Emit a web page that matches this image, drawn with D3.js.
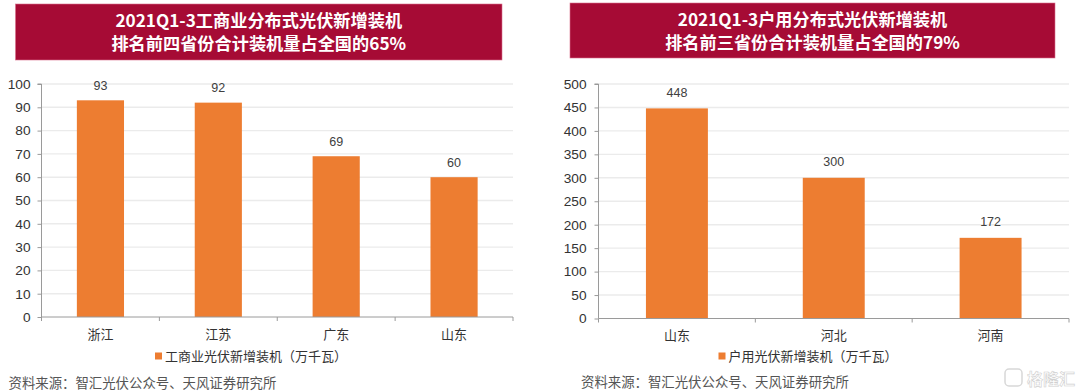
<!DOCTYPE html>
<html><head><meta charset="utf-8">
<script src="https://cdn.jsdelivr.net/npm/d3@7/dist/d3.min.js"></script>
<style>html,body{margin:0;padding:0;background:#fff}svg{display:block}</style></head>
<body><svg id="c" width="1080" height="392"></svg>
<script>
const categoriesA = ["浙江","江苏","广东","山东"];
const valuesA = [93,92,69,60];
const ticksA = [0,10,20,30,40,50,60,70,80,90,100];
const titleA = ["2021Q1-3工商业分布式光伏新增装机","排名前四省份合计装机量占全国的65%"];
const legendA = "工商业光伏新增装机（万千瓦）";
const categoriesB = ["山东","河北","河南"];
const valuesB = [448,300,172];
const ticksB = [0,50,100,150,200,250,300,350,400,450,500];
const titleB = ["2021Q1-3户用分布式光伏新增装机","排名前三省份合计装机量占全国的79%"];
const legendB = "户用光伏新增装机（万千瓦）";
const source = "资料来源：智汇光伏公众号、天风证券研究所";
const watermark = "格隆汇";
const cjk = "'Noto Sans CJK SC','Noto Sans',sans-serif";
const latin = "'Liberation Sans',Arial,sans-serif";
const svg = d3.select("#c");

function panel(o){
  const g = svg.append("g");
  g.append("rect").attr("x",o.box[0]).attr("y",o.box[1]).attr("width",o.box[2]).attr("height",o.box[3])
    .attr("fill","#a60b35").attr("stroke","#d9708c").attr("stroke-width",0.6);
  o.title.forEach((t,i)=>g.append("text").attr("x",o.box[0]+o.box[2]/2).attr("y",o.box[1]+23+i*23)
    .attr("text-anchor","middle").attr("fill","#fff").attr("font-family",cjk).attr("font-weight",700)
    .attr("font-size",17.2).text(t));
  const x = d3.scaleBand().domain(o.cats).range([o.x0,o.x1]).paddingInner(o.pad).paddingOuter(o.pad/2);
  const y = d3.scaleLinear().domain([0,o.max]).range([o.y0,o.y1]);
  g.append("g").selectAll("line").data(o.ticks.slice(1)).join("line")
    .attr("x1",o.x0).attr("x2",o.x1).attr("y1",d=>y(d)).attr("y2",d=>y(d))
    .attr("stroke","#ebebeb").attr("stroke-width",1.4);
  g.selectAll("rect.bar").data(o.vals).join("rect").attr("class","bar")
    .attr("x",(d,i)=>x(o.cats[i])).attr("width",x.bandwidth())
    .attr("y",d=>y(d)).attr("height",d=>y(0)-y(d)).attr("fill","#ed7d31");
  g.selectAll("text.v").data(o.vals).join("text").attr("class","v")
    .attr("x",(d,i)=>x(o.cats[i])+x.bandwidth()/2).attr("y",d=>y(d)-o.lab)
    .attr("text-anchor","middle").attr("font-family",latin).attr("font-size",12.5).attr("fill","#404040").text(d=>d);
  const ay = d3.axisLeft(y).tickValues(o.ticks).tickSize(4).tickPadding(o.tp);
  const gy = g.append("g").attr("transform",`translate(${o.x0},0)`).call(ay);
  gy.selectAll("text").attr("font-family",latin).attr("font-size",13.7).attr("fill","#333");
  gy.selectAll("line,path").attr("stroke","#9a9a9a").attr("stroke-width",1);
  gy.select("path").attr("d",`M-4,${y(o.max)}H0V${y(0)}`);
  const ax = d3.axisBottom(x).tickSize(0).tickPadding(0);
  const gx = g.append("g").attr("transform",`translate(0,${o.y0})`).call(ax);
  gx.selectAll("text").attr("font-family",cjk).attr("font-size",13).attr("fill","#333").attr("dy",0).attr("y",21.5);
  gx.selectAll("path").attr("stroke","#9a9a9a").attr("d",`M${o.x0},0H${o.x1}`);
  const step = (o.x1-o.x0)/o.cats.length;
  gx.selectAll("line.sep").data(d3.range(o.cats.length+1)).join("line").attr("class","sep")
    .attr("x1",i=>o.x0+i*step).attr("x2",i=>o.x0+i*step).attr("y1",0).attr("y2",4).attr("stroke","#9a9a9a");
  g.append("rect").attr("x",o.lx).attr("y",352.5).attr("width",7).attr("height",7).attr("fill","#ed7d31");
  g.append("text").attr("x",o.lx+10).attr("y",360.5).attr("font-family",cjk).attr("font-size",13)
    .attr("fill","#333").text(o.legend);
  g.append("text").attr("x",o.sx).attr("y",o.sy).attr("font-family",cjk).attr("font-size",13.4)
    .attr("fill","#555").text(source);
}
panel({box:[15.5,4,486.5,56],title:titleA,cats:categoriesA,vals:valuesA,ticks:ticksA,max:100,
  x0:41.5,x1:513,y0:317,y1:84,pad:0.6,tp:7,lab:10.5,legend:legendA,lx:155,sx:8.5,sy:388});
panel({box:[570,3,485,55],title:titleB,cats:categoriesB,vals:valuesB,ticks:ticksB,max:500,
  x0:598.5,x1:1069,y0:318.5,y1:84,pad:0.605,tp:8,lab:11.5,legend:legendB,lx:718.5,sx:581,sy:387});
svg.append("rect").attr("x",1005).attr("y",369).attr("width",17).attr("height",17).attr("rx",4)
  .attr("fill","none").attr("stroke","#d8d8d8").attr("stroke-width",1.5);
svg.append("text").attr("x",1027).attr("y",385).attr("font-family",cjk).attr("font-size",16)
  .attr("font-weight",700).attr("fill","#fff").attr("stroke","#d0d0d0").attr("stroke-width",0.6).text(watermark);
</script></body></html>
